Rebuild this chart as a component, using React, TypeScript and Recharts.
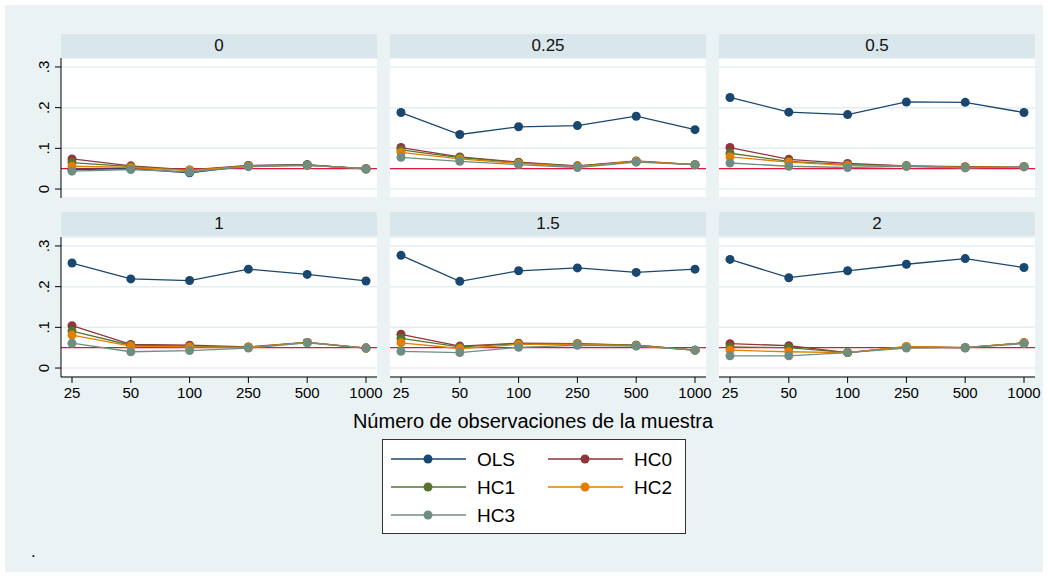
import { LineChart, Line, XAxis, YAxis, CartesianGrid, ReferenceLine } from "recharts";

const sampleSizes = ["25", "50", "100", "250", "500", "1000"];
const panelTitles = ["0", "0.25", "0.5", "1", "1.5", "2"];
const yTicks = [0, 0.1, 0.2, 0.3];
const nominalLevel = 0.05;

// one row per panel, one value per sample size
const ols = [
  [0.048, 0.05, 0.04, 0.057, 0.06, 0.049],
  [0.188, 0.134, 0.153, 0.156, 0.179, 0.146],
  [0.225, 0.189, 0.183, 0.214, 0.213, 0.188],
  [0.258, 0.219, 0.215, 0.243, 0.23, 0.214],
  [0.277, 0.213, 0.239, 0.246, 0.235, 0.243],
  [0.267, 0.222, 0.239, 0.255, 0.269, 0.247],
];
const hc0 = [
  [0.074, 0.057, 0.047, 0.058, 0.059, 0.05],
  [0.102, 0.079, 0.066, 0.057, 0.069, 0.06],
  [0.102, 0.073, 0.063, 0.057, 0.055, 0.055],
  [0.104, 0.058, 0.056, 0.052, 0.063, 0.049],
  [0.083, 0.054, 0.061, 0.06, 0.056, 0.044],
  [0.06, 0.055, 0.038, 0.052, 0.05, 0.062],
];
const hc1 = [
  [0.065, 0.055, 0.046, 0.057, 0.059, 0.05],
  [0.096, 0.077, 0.065, 0.056, 0.068, 0.06],
  [0.088, 0.068, 0.06, 0.057, 0.053, 0.055],
  [0.091, 0.056, 0.054, 0.051, 0.063, 0.049],
  [0.073, 0.052, 0.06, 0.059, 0.056, 0.044],
  [0.052, 0.05, 0.038, 0.052, 0.05, 0.062],
];
const hc2 = [
  [0.056, 0.053, 0.046, 0.056, 0.058, 0.05],
  [0.09, 0.074, 0.063, 0.055, 0.068, 0.06],
  [0.079, 0.066, 0.058, 0.056, 0.053, 0.055],
  [0.081, 0.054, 0.052, 0.051, 0.063, 0.049],
  [0.062, 0.048, 0.058, 0.058, 0.055, 0.044],
  [0.044, 0.04, 0.038, 0.053, 0.05, 0.062],
];
const hc3 = [
  [0.044, 0.048, 0.042, 0.055, 0.058, 0.05],
  [0.078, 0.068, 0.06, 0.053, 0.066, 0.06],
  [0.064, 0.056, 0.053, 0.056, 0.052, 0.055],
  [0.061, 0.04, 0.043, 0.049, 0.062, 0.049],
  [0.041, 0.038, 0.051, 0.056, 0.054, 0.044],
  [0.03, 0.03, 0.038, 0.049, 0.05, 0.06],
];

const seriesNames = ["OLS", "HC0", "HC1", "HC2", "HC3"];
const seriesValues = [ols, hc0, hc1, hc2, hc3];
const seriesColors = ["#1a476f", "#90353b", "#55752f", "#e37e00", "#6e8e84"];

const FONT = "'Liberation Sans', Arial, Helvetica, sans-serif";
const colX = [61, 390, 719];
const headerY = [34, 212];
const plotY = [58, 237];
const PLOT_W = 316;
const PLOT_H = 140;
const Y_AXIS_W = 50;
const X_AXIS_H = 30;
const RIGHT_PAD = 16;

const fmt = (v: number) => (v === 0 ? "0" : String(Math.round(v * 10) / 10).replace(/^0/, ""));

function YTick({ x, y, payload }: any) {
  const cx = x - 4;
  return (
    <text x={cx} y={y} transform={`rotate(-90 ${cx} ${y})`} textAnchor="middle" fontSize={15} fontFamily={FONT} fill="#000">
      {fmt(payload.value)}
    </text>
  );
}

function XTick({ x, y, payload }: any) {
  return (
    <text x={x} y={y} dy={13} textAnchor="middle" fontSize={15} fontFamily={FONT} fill="#000">
      {payload.value}
    </text>
  );
}

function Panel({ p }: { p: number }) {
  const row = Math.floor(p / 3);
  const col = p % 3;
  const showY = col === 0;
  const showX = row === 1;
  const data = sampleSizes.map((n, i) => {
    const d: any = { n };
    seriesNames.forEach((s, k) => (d[s] = seriesValues[k][p][i]));
    return d;
  });
  const w = PLOT_W + (showY ? Y_AXIS_W : 0) + RIGHT_PAD;
  const h = PLOT_H + (showX ? X_AXIS_H : 0);
  return (
    <>
      <div
        style={{
          position: "absolute",
          left: colX[col],
          top: headerY[row],
          width: PLOT_W,
          height: 24,
          background: "#d9e6eb",
          textAlign: "center",
          lineHeight: "24px",
          fontSize: 17,
          fontFamily: FONT,
          color: "#111",
        }}
      >
        {panelTitles[p]}
      </div>
      <div style={{ position: "absolute", left: colX[col], top: plotY[row], width: PLOT_W, height: PLOT_H, background: "#fff" }} />
      <div style={{ position: "absolute", left: colX[col] - (showY ? Y_AXIS_W : 0), top: plotY[row] }}>
        <LineChart width={w} height={h} data={data} margin={{ top: 0, right: RIGHT_PAD, bottom: 0, left: 0 }}>
          <CartesianGrid horizontal vertical={false} stroke="#e4edf0" strokeWidth={1.5} />
          <XAxis
            dataKey="n"
            hide={!showX}
            height={X_AXIS_H}
            padding={{ left: 11, right: 11 }}
            axisLine={{ stroke: "#000" }}
            tickLine={{ stroke: "#000" }}
            tickSize={6}
            tick={<XTick />}
            interval={0}
          />
          <YAxis
            hide={!showY}
            width={Y_AXIS_W}
            domain={[-0.022, 0.322]}
            ticks={yTicks}
            interval={0}
            axisLine={{ stroke: "#000" }}
            tickLine={{ stroke: "#000" }}
            tickSize={6}
            tick={<YTick />}
          />
          <ReferenceLine y={nominalLevel} stroke="#e3123e" strokeWidth={1.3} />
          {seriesNames.map((s, k) => (
            <Line
              key={s}
              dataKey={s}
              stroke={seriesColors[k]}
              strokeWidth={1.3}
              dot={{ r: 4.5, fill: seriesColors[k], stroke: seriesColors[k], strokeWidth: 0 }}
              activeDot={false}
              isAnimationActive={false}
            />
          ))}
        </LineChart>
      </div>
    </>
  );
}

function LegendBox() {
  const rows = [
    [0, 1],
    [2, 3],
    [4],
  ];
  return (
    <svg style={{ position: "absolute", left: 382, top: 439 }} width={304} height={95}>
      <rect x={0.5} y={0.5} width={303} height={94} fill="#fff" stroke="#333" strokeWidth={1} />
      {rows.map((r, ri) =>
        r.map((k, ci) => {
          const y = 20 + ri * 28;
          const x0 = ci === 0 ? 9 : 166;
          return (
            <g key={k}>
              <line x1={x0} x2={x0 + 75} y1={y} y2={y} stroke={seriesColors[k]} strokeWidth={1.3} />
              <circle cx={x0 + 37} cy={y} r={4.5} fill={seriesColors[k]} />
              <text x={x0 + 86} y={y + 7} fontSize={19} fontFamily={FONT} fill="#000">
                {seriesNames[k]}
              </text>
            </g>
          );
        })
      )}
    </svg>
  );
}

export default function App() {
  return (
    <div style={{ position: "absolute", left: 0, top: 0, width: 1048, height: 577, background: "#fff" }}>
      <div style={{ position: "absolute", left: 5, top: 5, width: 1038, height: 567, background: "#eaf2f3" }} />
      {panelTitles.map((_, p) => (
        <Panel key={p} p={p} />
      ))}
      <svg style={{ position: "absolute", left: 0, top: 0 }} width={1048} height={577}>
        <text x={533} y={428} textAnchor="middle" fontSize={20} fontFamily={FONT} fill="#000">
          Número de observaciones de la muestra
        </text>
        <text x={31} y={557} fontSize={17} fontFamily={FONT} fill="#000">
          .
        </text>
      </svg>
      <LegendBox />
    </div>
  );
}
